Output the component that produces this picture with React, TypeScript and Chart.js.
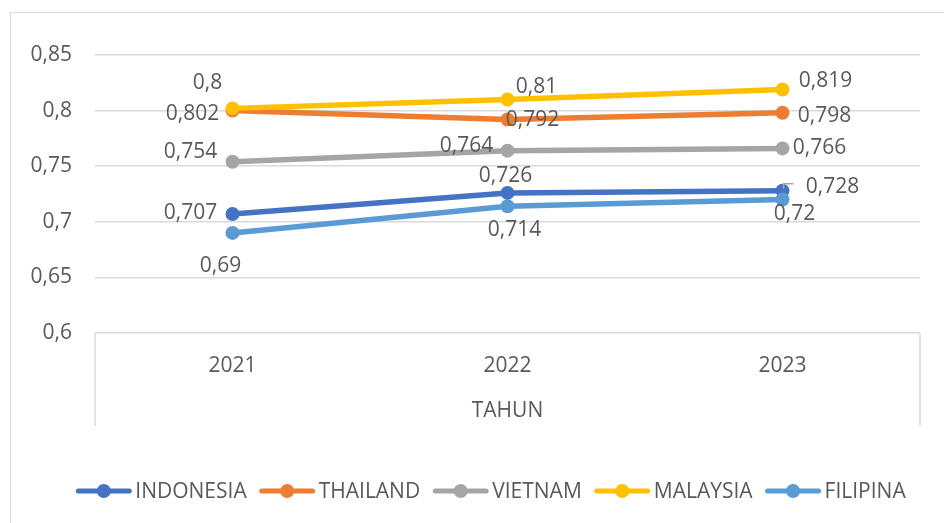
import React, { useEffect, useRef } from "react";
import { Chart, registerables } from "chart.js";

Chart.register(...registerables);

const years = ["2021", "2022", "2023"];
const indonesia = [0.707, 0.726, 0.728];
const thailand = [0.8, 0.792, 0.798];
const vietnam = [0.754, 0.764, 0.766];
const malaysia = [0.802, 0.81, 0.819];
const filipina = [0.69, 0.714, 0.72];
const seriesNames = ["INDONESIA", "THAILAND", "VIETNAM", "MALAYSIA", "FILIPINA"];
const seriesData = [indonesia, thailand, vietnam, malaysia, filipina];
const yTicks = [0.6, 0.65, 0.7, 0.75, 0.8, 0.85];

const colors = ["#4472C4", "#ED7D31", "#A5A5A5", "#FFC000", "#5B9BD5"];
// label text per series/point (as printed in the chart)
const labelTexts = [
  ["0,707", "0,726", "0,728"],
  ["0,8", "0,792", "0,798"],
  ["0,754", "0,764", "0,766"],
  ["0,802", "0,81", "0,819"],
  ["0,69", "0,714", "0,72"],
];
// label offsets (dx, dy) from the point, in pixels
const labelOffsets = [
  [[-42, -1], [-2, -17], [50, -4]],
  [[-25, -28], [25, 1], [42, 3]],
  [[-42, -10], [-41, -5], [37, 0]],
  [[-40, 6], [29, -12], [43, -8]],
  [[-12, 33], [7, 24], [12, 14]],
];

const FONT = "'Open Sans', 'DejaVu Sans', sans-serif";
const TEXT = "#595959";
const FS = 21;

const fmt = (v: number) => String(Math.round(v * 1000) / 1000).replace(".", ",");

export default function App() {
  const ref = useRef<HTMLCanvasElement | null>(null);
  useEffect(() => {
    if (!ref.current) return;
    const labelsPlugin = {
      id: "dlabels",
      afterDatasetsDraw(chart: any) {
        const ctx = chart.ctx;
        ctx.save();
        ctx.font = `${FS}px ${FONT}`;
        ctx.fillStyle = TEXT;
        ctx.textAlign = "center";
        ctx.textBaseline = "middle";
        chart.data.datasets.forEach((ds: any, i: number) => {
          const meta = chart.getDatasetMeta(i);
          meta.data.forEach((pt: any, j: number) => {
            const [dx, dy] = labelOffsets[i][j];
            ctx.fillText(labelTexts[i][j] ?? fmt(ds.data[j]), pt.x + dx, pt.y + dy);
          });
        });
        // leader line for Indonesia 2023
        const p = chart.getDatasetMeta(0).data[2];
        ctx.strokeStyle = "#A6A6A6";
        ctx.lineWidth = 1.5;
        ctx.beginPath();
        ctx.moveTo(p.x + 1, p.y - 2);
        ctx.lineTo(p.x + 1, p.y - 7);
        ctx.lineTo(p.x + 11, p.y - 7);
        ctx.stroke();
        ctx.restore();
      },
      afterDraw(chart: any) {
        const ctx = chart.ctx;
        const ca = chart.chartArea;
        ctx.save();
        // category box lines
        ctx.strokeStyle = "#D9D9D9";
        ctx.lineWidth = 1.5;
        const xs = chart.scales.x;
        ctx.beginPath();
        ctx.moveTo(ca.left, ca.bottom);
        ctx.lineTo(ca.left, xs.bottom);
        ctx.moveTo(ca.right, ca.bottom);
        ctx.lineTo(ca.right, xs.bottom);
        ctx.stroke();
        // legend
        ctx.font = `${FS}px ${FONT}`;
        const lineW = 55;
        const gapText = 4;
        const gapItem = 13;
        const widths = seriesNames.map((n) => ctx.measureText(n).width);
        let total = 0;
        widths.forEach((w, i) => {
          total += lineW + gapText + w + (i < widths.length - 1 ? gapItem : 0);
        });
        let x = 491 - total / 2;
        const y = 491;
        ctx.textBaseline = "middle";
        ctx.textAlign = "left";
        seriesNames.forEach((n, i) => {
          ctx.strokeStyle = colors[i];
          ctx.lineWidth = 5;
          ctx.lineCap = "round";
          ctx.beginPath();
          ctx.moveTo(x + 2, y);
          ctx.lineTo(x + lineW - 2, y);
          ctx.stroke();
          ctx.fillStyle = colors[i];
          ctx.beginPath();
          ctx.arc(x + lineW / 2, y, 7, 0, Math.PI * 2);
          ctx.fill();
          ctx.fillStyle = TEXT;
          ctx.fillText(n, x + lineW + gapText, y + 1);
          x += lineW + gapText + widths[i] + gapItem;
        });
        ctx.restore();
      },
    };

    const chart = new Chart(ref.current, {
      type: "line",
      data: {
        labels: years,
        datasets: seriesNames.map((name, i) => ({
          label: name,
          data: seriesData[i],
          order: -i,
          borderColor: colors[i],
          backgroundColor: colors[i],
          borderWidth: 5.5,
          pointRadius: 7,
          pointHoverRadius: 7,
          pointBackgroundColor: colors[i],
          pointBorderColor: colors[i],
          pointBorderWidth: 0,
          tension: 0,
          borderCapStyle: "round",
          borderJoinStyle: "round",
        })),
      },
      options: {
        animation: false,
        responsive: false,
        maintainAspectRatio: false,
        layout: { padding: { left: 0, top: 55, right: 24, bottom: 97 } },
        plugins: { legend: { display: false }, tooltip: { enabled: false } },
        scales: {
          x: {
            type: "category",
            offset: true,
            grid: { display: false, drawTicks: false },
            border: { display: false },
            ticks: { color: TEXT, font: { family: FONT, size: FS }, padding: 20, maxRotation: 0 },
            title: {
              display: true,
              text: "TAHUN",
              color: TEXT,
              font: { family: FONT, size: FS },
              padding: { top: 0, bottom: 2 },
            },
            afterFit: (s: any) => {
              s.height = 93;
            },
          },
          y: {
            min: 0.6,
            max: 0.85,
            afterBuildTicks: (s: any) => {
              s.ticks = yTicks.map((v) => ({ value: v }));
            },
            grid: { color: "#D9D9D9", lineWidth: 1.5, drawTicks: false },
            border: { display: false },
            ticks: {
              color: TEXT,
              font: { family: FONT, size: FS },
              padding: 23,
              callback: (v: any) => fmt(Number(v)),
            },
            afterFit: (s: any) => {
              s.width = 95;
            },
          },
        },
      },
      plugins: [labelsPlugin],
    } as any);
    return () => chart.destroy();
  }, []);

  return (
    <div style={{ position: "fixed", left: 0, top: 0, width: 944, height: 523, background: "#fff" }}>
      <div
        style={{
          position: "absolute",
          left: 10,
          top: 12,
          width: 960,
          height: 530,
          border: "1.5px solid #D9D9D9",
          boxSizing: "border-box",
        }}
      />
      <canvas ref={ref} width={944} height={523} style={{ position: "absolute", left: 0, top: 0 }} />
    </div>
  );
}
